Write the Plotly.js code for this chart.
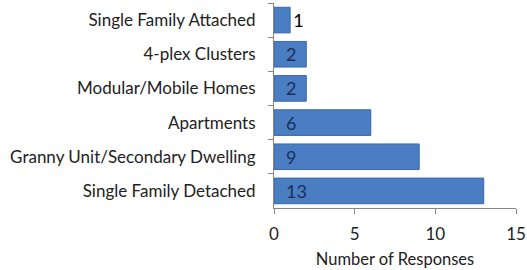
<!DOCTYPE html>
<html><head><meta charset="utf-8">
<script src="https://cdn.plot.ly/plotly-3.0.1.min.js"></script>
<style>html,body{margin:0;padding:0;background:#fff}#c{width:527px;height:270px}</style>
</head><body><div id="c"></div>
<script>
const categories = ["Single Family Attached","4-plex Clusters","Modular/Mobile Homes","Apartments","Granny Unit/Secondary Dwelling","Single Family Detached"];
const responses = [1,2,2,6,9,13];
const xTicks = [0,5,10,15];

const textPos = responses.map(v => v < 1.5 ? 'outside' : 'inside');
const textCol = responses.map(v => v < 1.5 ? '#000000' : '#1a2f5a');

Plotly.newPlot('c', [{
  type:'bar', orientation:'h',
  y: categories, x: responses,
  text: responses.map(v => v < 1.5 ? String(v) : '\u2002' + v),
  textposition: textPos,
  insidetextanchor: 'start',
  textangle: 0,
  textfont: {family:'Lato, sans-serif', size:18, color:textCol},
  outsidetextfont: {family:'Lato, sans-serif', size:18, color:'#000'},
  insidetextfont: {family:'Lato, sans-serif', size:18, color:'#1a2f5a'},
  constraintext:'none',
  cliponaxis:false,
  marker:{color:'#4a7dc2', line:{color:'#3a69a8', width:1}},
  width:0.75,
  hoverinfo:'none'
}], {
  width:527, height:270,
  margin:{l:274, r:11, t:3, b:62, pad:0},
  paper_bgcolor:'#fff', plot_bgcolor:'#fff',
  font:{family:'Lato, sans-serif', size:16.5, color:'#222'},
  showlegend:false,
  xaxis:{
    range:[0,15], tickvals:xTicks, ticktext:xTicks.map(String),
    showgrid:false, zeroline:false,
    showline:true, linecolor:'#868686', linewidth:1,
    ticks:'outside', ticklen:5, tickcolor:'#868686',
    ticklabelstandoff:6,
    tickfont:{size:17, color:'#222'},
    title:{text:'Number of Responses', font:{size:16.5, color:'#222'}, standoff:10}
  },
  yaxis:{
    autorange:'reversed', type:'category',
    showgrid:false, zeroline:false,
    showline:true, linecolor:'#868686', linewidth:1,
    ticks:'outside', ticklen:5, tickcolor:'#868686', tickson:'boundaries',
    ticklabelstandoff:14,
    tickfont:{size:17, color:'#222'}
  }
}, {staticPlot:true, displayModeBar:false});
</script>
</body></html>
